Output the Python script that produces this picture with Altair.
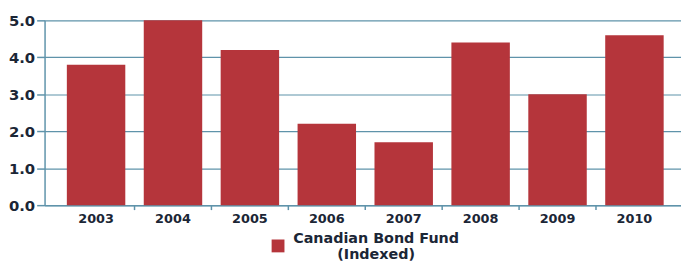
import altair as alt
import pandas as pd

years = ["2003", "2004", "2005", "2006", "2007", "2008", "2009", "2010"]
values = [3.8, 5.0, 4.2, 2.2, 1.7, 4.4, 3.0, 4.6]
series_name = "Canadian Bond Fund|(Indexed)"
y_ticks = [0, 1, 2, 3, 4, 5]

df = pd.DataFrame({"year": years, "value": values, "series": [series_name] * len(years)})
tick_df = pd.DataFrame({"year": years[1:]})

TEXT = "#1b2636"
LINE = "#5f93aa"
BAR = "#b5353b"
FONT = "DejaVu Sans"

xscale = alt.Scale(domain=years, paddingInner=0, paddingOuter=0.1375, align=0.617)

bars = alt.Chart(df).mark_bar(width=alt.RelativeBandSize(0.76)).encode(
    x=alt.X("year:N", scale=xscale, sort=years,
            axis=alt.Axis(title=None, labelAngle=0, ticks=False, tickSize=0,
                          domain=True, domainColor=LINE, domainWidth=1.5,
                          labelFont=FONT, labelFontWeight="bold", labelFontSize=13,
                          labelColor=TEXT, labelPadding=8, grid=False)),
    y=alt.Y("value:Q", scale=alt.Scale(domain=[0, 5], nice=False),
            axis=alt.Axis(title=None, values=y_ticks, format=".1f", tickSize=8,
                          tickColor=LINE, tickWidth=1.5, domain=True, domainColor=LINE,
                          domainWidth=1.5, grid=True, gridColor=LINE, gridWidth=1.2,
                          labelFont=FONT, labelFontWeight="bold", labelFontSize=15,
                          labelColor=TEXT, labelPadding=2)),
    color=alt.Color("series:N", scale=alt.Scale(range=[BAR]),
                    legend=alt.Legend(title=None, orient="none", legendX=229, legendY=221,
                                      symbolType="square", symbolSize=169,
                                      symbolStrokeWidth=0, symbolOpacity=1,
                                      labelExpr="split(datum.label, '|')",
                                      labelFont=FONT, labelFontWeight="bold",
                                      labelFontSize=14.5, labelColor=TEXT,
                                      labelAlign="center", labelBaseline="bottom",
                                      labelOffset=92,
                                      labelLimit=0, padding=0)),
)

ticks = alt.Chart(tick_df).mark_rule(color=LINE, strokeWidth=1.5).encode(
    x=alt.X("year:N", scale=xscale, sort=years, bandPosition=0),
    y=alt.value(187),
    y2=alt.value(192),
)

chart = alt.layer(bars, ticks).properties(
    width=644, height=187,
    autosize=alt.AutoSizeParams(type="none"),
    padding={"left": 37, "top": 11, "right": 0, "bottom": 55},
).configure_view(stroke=None)

chart.save("out.html", embed_options={"renderer": "svg", "actions": False})
